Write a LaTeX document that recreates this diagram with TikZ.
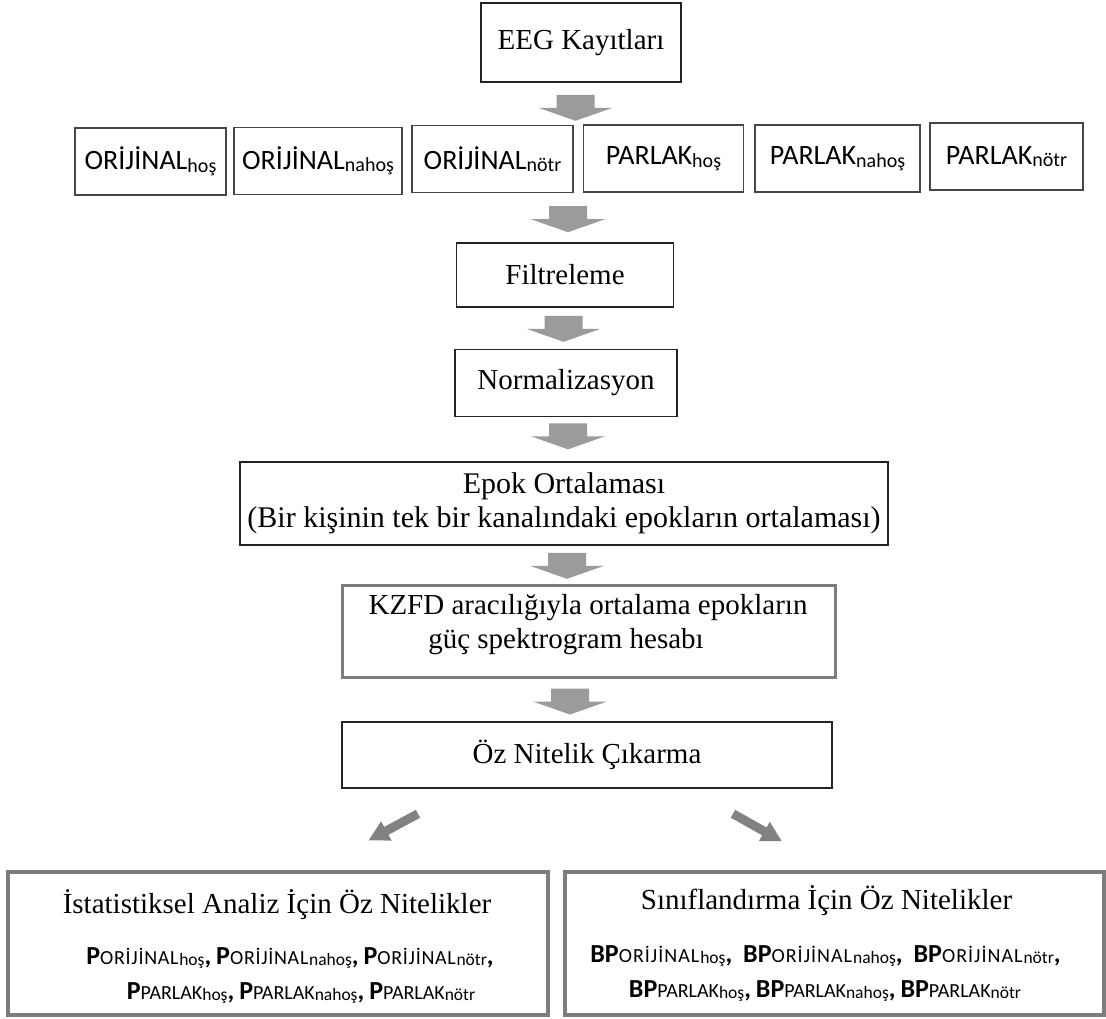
\documentclass[tikz,border=0pt]{standalone}
\usepackage{fontspec}
\setmainfont{Liberation Serif}
\newfontfamily\carlito{Carlito}
\definecolor{edge}{RGB}{35,35,35}
\definecolor{rowedge}{RGB}{70,70,70}
\definecolor{heavyedge}{RGB}{125,125,125}
\definecolor{flowgray}{RGB}{155,155,155}
\definecolor{diaggray}{RGB}{130,130,130}
% subscript-like tail of the row labels
\newcommand\lowtxt[1]{\raisebox{-2.5pt}{\fontsize{20}{20}\selectfont #1}}
% feature names: bold prefix, small name, smaller lowered tail
\newcommand\ftr[3]{{\bfseries\fontsize{26}{26}\selectfont #1}{\fontsize{20}{20}\selectfont #2}\raisebox{-1.5pt}{\fontsize{17.5}{17.5}\selectfont #3}}
% spaced-out capitals
\newcommand\orj[1]{O\kern#1 R\kern#1 İ\kern#1 J\kern#1 İ\kern#1 N\kern#1 A\kern#1 L\kern#1}
\newcommand\cmm{{\bfseries\fontsize{26}{26}\selectfont ,}}
\begin{document}
\begin{tikzpicture}[x=1pt,y=-1pt,
  box/.style={draw=edge, line width=1.6pt, inner sep=0pt, align=center,
    font=\fontsize{29}{34}\selectfont},
  rowbox/.style={draw=rowedge, line width=1.5pt, inner sep=0pt, minimum height=67pt,
    font=\carlito\fontsize{28}{30}\selectfont},
  heavybox/.style={draw=heavyedge, line width=3pt, inner sep=0pt},
  serif/.style={inner sep=0pt, align=center, font=\fontsize{29}{34}\selectfont},
  feat/.style={inner sep=0pt, font=\carlito\fontsize{22}{26}\selectfont},
  vflow/.pic={\fill[flowgray] (-19,0) -- (19,0) -- (19,13) -- (37,13) -- (0,26)
    -- (-37,13) -- (-19,13) -- cycle;},
  dflow/.pic={\fill[diaggray] (-4.5,0) -- (4.5,0) -- (4.5,36) -- (11,36) -- (0,56)
    -- (-11,36) -- (-4.5,36) -- cycle;}
]
\useasboundingbox (0,0) rectangle (1106,1019);
\fill[white] (0,0) rectangle (1106,1019);

% source recordings
\node[box, minimum width=200pt, minimum height=79pt] (eeg) at (581,42.5) {EEG Kayıtları};

% stimulus groups
\node[rowbox, minimum width=151pt] (o1) at (150.5,161.5) {ORİJİNAL\lowtxt{hoş}};
\node[rowbox, minimum width=168pt] (o2) at (318,161) {ORİJİNAL\lowtxt{nahoş}};
\node[rowbox, minimum width=161pt] (o3) at (492.5,159) {ORİJİNAL\lowtxt{nötr}};
\node[rowbox, minimum width=160pt] (p1) at (663.5,158.5) {PARLAK\lowtxt{hoş}};
\node[rowbox, minimum width=165pt] (p2) at (837.5,158.5) {PARLAK\lowtxt{nahoş}};
\node[rowbox, minimum width=153pt] (p3) at (1006.5,156.5) {PARLAK\lowtxt{nötr}};

% processing chain
\node[box, minimum width=217pt, minimum height=64pt] (filt) at (565,275) {Filtreleme};
\node[box, minimum width=222pt, minimum height=67pt] (norm) at (566,383) {Normalizasyon};
\node[box, font=\fontsize{30}{34}\selectfont, minimum width=648pt, minimum height=83pt] (epok) at (564,503.5)
  {Epok Ortalaması\\(Bir kişinin tek bir kanalındaki epokların ortalaması)};
\node[heavybox, minimum width=493pt, minimum height=92pt] (kzfd) at (588.5,631) {};
\node[serif] (kzfdtext) at (588,625)
  {KZFD aracılığıyla ortalama epokların\\güç spektrogram hesabı\rule{44pt}{0pt}};
\node[box, line width=1.5pt, minimum width=490pt, minimum height=66pt] (oz) at (587,755) {Öz Nitelik Çıkarma};

% feature sets
\node[heavybox, line width=3.5pt, minimum width=540pt, minimum height=143pt] (stat) at (278,943.5) {};
\node[serif] (stattitle) at (277,905) {İstatistiksel Analiz İçin Öz Nitelikler};
\node[feat] (statf1) at (290,958)
  {\ftr{P}{\orj{.7pt}}{hoş}\cmm{} \ftr{P}{\orj{.7pt}}{nahoş}\cmm{} \ftr{P}{\orj{.7pt}}{nötr}\cmm};
\node[feat] (statf2) at (301,993)
  {\ftr{P}{PARLAK}{hoş}\cmm{} \ftr{P}{PARLAK}{nahoş}\cmm{} \ftr{P}{PARLAK}{nötr}};

\node[heavybox, line width=3.5pt, minimum width=539pt, minimum height=143pt] (cls) at (834.5,943.5) {};
\node[serif] (clstitle) at (826.5,901) {Sınıflandırma İçin Öz Nitelikler};
\node[feat] (clsf1) at (825.5,956)
  {\ftr{BP}{\orj{1pt}}{hoş}\cmm\hspace{11pt}\ftr{BP}{\orj{1pt}}{nahoş}\cmm\hspace{11pt}\ftr{BP}{\orj{1pt}}{nötr}\cmm};
\node[feat] (clsf2) at (825,991)
  {\ftr{BP}{PARLAK}{hoş}\cmm{} \ftr{BP}{PARLAK}{nahoş}\cmm{} \ftr{BP}{PARLAK}{nötr}};

% block arrows between the stages
\path (eeg.south) ++(-5.5,12) pic {vflow};
\path (filt.north) ++(3,-36) pic {vflow};
\path (filt.south) ++(-1.5,8) pic {vflow};
\path (norm.south) ++(2,6) pic {vflow};
\path (epok.south) ++(3,7) pic {vflow};
\path (kzfd.south) ++(-18.5,10) pic {vflow};
\path (oz.south) ++(-169,25) pic[rotate=-61.6] {dflow};
\path (oz.south) ++(146,25) pic[rotate=60.6] {dflow};
\end{tikzpicture}
\end{document}
